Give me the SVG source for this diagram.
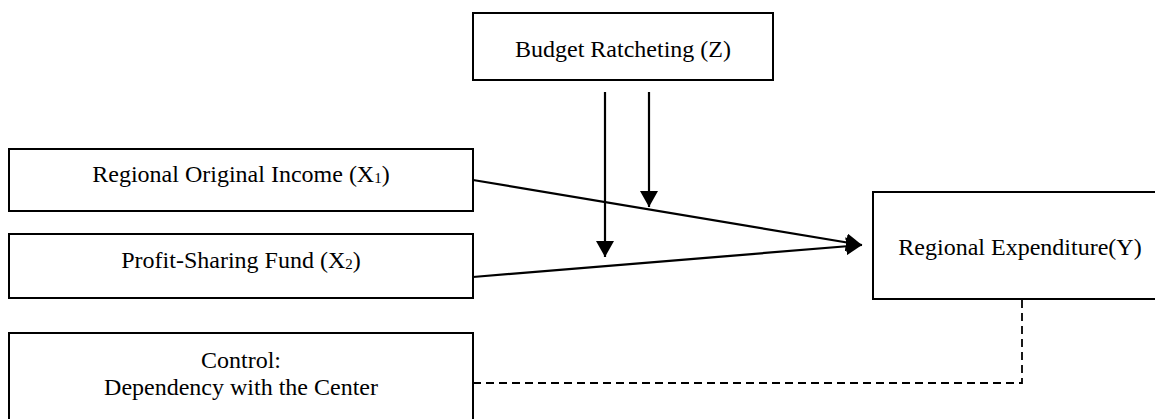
<svg xmlns="http://www.w3.org/2000/svg" width="1155" height="419" viewBox="0 0 1155 419">
<style>
.box{fill:#fff;stroke:#000;stroke-width:2}
.t{font-family:"Liberation Serif","Times New Roman",serif;font-size:24px;fill:#000;text-anchor:middle}
.sub{font-size:15px}
.ln{stroke:#000;stroke-width:2.2;fill:none}
.dash{stroke:#000;stroke-width:1.8;fill:none;stroke-dasharray:8 5}
</style>
<defs>
<marker id="ah" viewBox="0 0 16 18" refX="16" refY="9" markerWidth="16" markerHeight="18" markerUnits="userSpaceOnUse" orient="auto">
<path d="M0,0 L16,9 L0,18 Z" fill="#000"/>
</marker>
</defs>
<rect width="1155" height="419" fill="#fff"/>
<g id="connectors">
<line class="ln" x1="605" y1="92" x2="605" y2="257" marker-end="url(#ah)"/>
<line class="ln" x1="649" y1="92" x2="649" y2="207" marker-end="url(#ah)"/>
<line class="ln" x1="473" y1="180" x2="862" y2="245" marker-end="url(#ah)"/>
<line class="ln" x1="473" y1="277" x2="862" y2="245" marker-end="url(#ah)"/>
<polyline class="dash" points="473,383 1022,383 1022,300"/>
</g>
<g id="node-z">
<rect class="box" x="473" y="13" width="300" height="67"/>
<text class="t" x="623" y="57">Budget Ratcheting (Z)</text>
</g>
<g id="node-x1">
<rect class="box" x="9" y="149" width="464" height="62"/>
<text class="t" x="241" y="182">Regional Original Income (X<tspan class="sub" dy="1">1</tspan><tspan dy="-1">)</tspan></text>
</g>
<g id="node-x2">
<rect class="box" x="9" y="234" width="464" height="64"/>
<text class="t" x="241" y="268">Profit-Sharing Fund (X<tspan class="sub" dy="1">2</tspan><tspan dy="-1">)</tspan></text>
</g>
<g id="node-control">
<rect class="box" x="9" y="333" width="464" height="100"/>
<text class="t" x="241" y="368">Control:</text>
<text class="t" x="241" y="395">Dependency with the Center</text>
</g>
<g id="node-y">
<rect class="box" x="873" y="192" width="300" height="107"/>
<text class="t" x="1020" y="255">Regional Expenditure(Y)</text>
</g>
</svg>
